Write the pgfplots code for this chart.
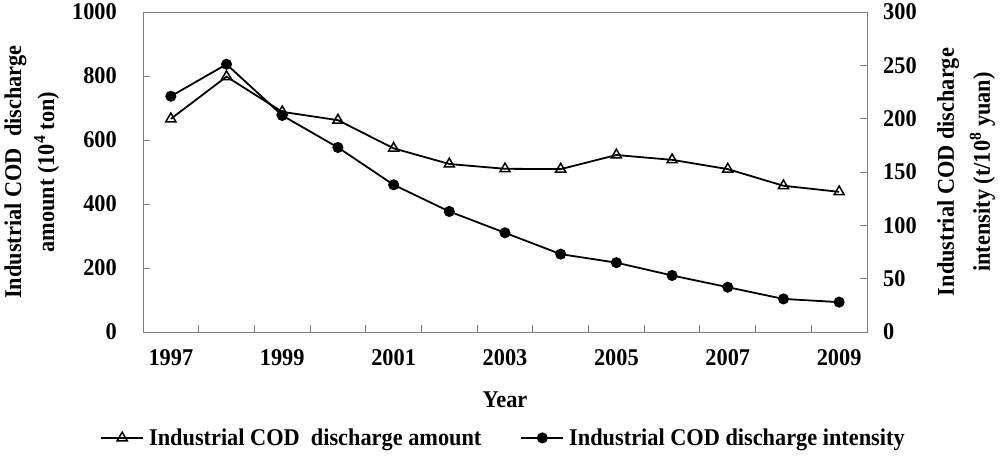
\documentclass[border=0pt]{standalone}
\usepackage{fontspec}
\setmainfont{Liberation Serif}[FakeStretch=0.93]
\usepackage{pgfplots}
\pgfplotsset{compat=1.18}

\newcommand{\chartfont}{\fontsize{24bp}{31bp}\selectfont\bfseries}

\pgfplotsset{
  base/.style={
    width=724bp, height=320bp, scale only axis,
    xmin=-0.5, xmax=12.5,
    axis line style={draw=gray, line width=0.9bp},
    tick align=inside,
    tick style={draw=gray, line width=0.9bp},
    major tick length=7bp,
    font=\chartfont,
    /pgf/number format/assume math mode=true,
    /pgf/number format/set thousands separator={},
  },
  amt/.style={black, line width=1.8bp, mark=triangle, mark size=5.8bp,
    mark options={fill=white, solid, line width=1.5bp}},
  int/.style={black, line width=1.8bp, mark=*, mark size=4.6bp,
    mark options={fill=black, solid}},
  legend image code/.code={
    \draw[mark repeat=2, mark phase=2, #1]
      plot coordinates {(0bp,0bp) (21bp,0bp) (42bp,0bp)};},
}

\begin{document}
\begin{tikzpicture}
\path[use as bounding box] (-143bp,-124bp) rectangle (857bp,332bp);

\begin{axis}[base,
  ymin=0, ymax=1000, ytick={0,200,...,1000},
  xtick pos=bottom, ytick pos=left,
  xtick={0.5,1.5,...,11.5}, xticklabels={},
  extra x ticks={0,2,4,6,8,10,12},
  extra x tick labels={1997,1999,2001,2003,2005,2007,2009},
  extra x tick style={major tick length=0pt,
    xticklabel style={anchor=center, inner sep=0pt, yshift=-26bp}},
  yticklabel style={anchor=east, inner sep=0pt, xshift=-26bp},
  xlabel={Year},
  xlabel style={at={(axis description cs:0.5,-0.212)}, anchor=center},
  ylabel={Industrial COD\ \ discharge\\[2bp]amount (10\textsuperscript{4} ton)},
  ylabel style={at={(axis description cs:-0.1535,0.5)}, anchor=center,
    align=center, font=\chartfont},
]
\addplot[amt] coordinates {
  (0,666) (1,798) (2,688) (3,662) (4,574) (5,525) (6,510)
  (7,509) (8,553) (9,538) (10,509) (11,457) (12,438)
};
\end{axis}

\begin{axis}[base,
  axis y line*=right, axis x line=none,
  ymin=0, ymax=300, ytick={0,50,...,300},
  yticklabel style={anchor=west, inner sep=0pt, xshift=16bp},
  ylabel={Industrial COD discharge\\[5bp]intensity (t/10\textsuperscript{8}\ yuan)},
  ylabel style={at={(axis description cs:1.137,0.5)}, anchor=center,
    align=center, font=\chartfont},
  legend columns=2,
  legend style={at={(axis description cs:0.5,-0.331)}, anchor=center,
    draw=none, fill=none, inner sep=0pt,
    nodes={inner xsep=5bp},
    /tikz/every even column/.append style={column sep=34bp}},
]
\addlegendimage{amt}
\addlegendentry{Industrial COD\ \ discharge amount}
\addplot[int] coordinates {
  (0,221) (1,251) (2,203) (3,173) (4,138) (5,113) (6,93)
  (7,73) (8,65) (9,53) (10,42) (11,31) (12,28)
};
\addlegendentry{Industrial COD discharge intensity}
\end{axis}
\end{tikzpicture}
\end{document}
